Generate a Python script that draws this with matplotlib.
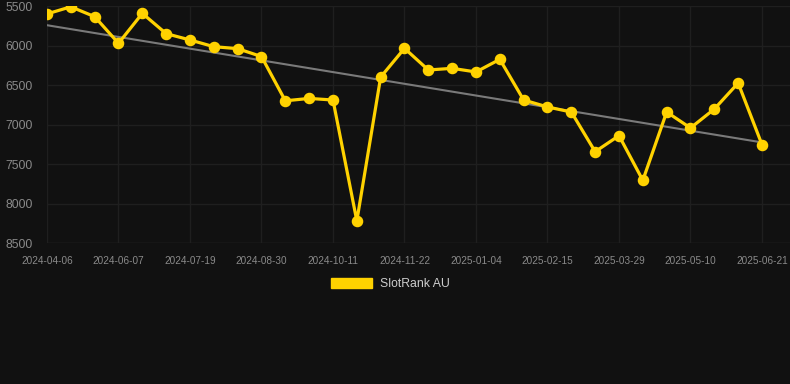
import numpy as np
import matplotlib.pyplot as plt
from matplotlib.patches import Patch

dates = ["2024-04-06", "2024-04-20", "2024-05-04", "2024-06-07", "2024-06-21", "2024-07-05",
         "2024-07-19", "2024-08-02", "2024-08-16", "2024-08-30", "2024-09-13", "2024-09-27",
         "2024-10-11", "2024-10-25", "2024-11-08", "2024-11-22", "2024-12-06", "2024-12-20",
         "2025-01-04", "2025-01-18", "2025-02-01", "2025-02-15", "2025-03-01", "2025-03-15",
         "2025-03-29", "2025-04-12", "2025-04-26", "2025-05-10", "2025-05-24", "2025-06-07",
         "2025-06-21"]
rank = [5600, 5510, 5635, 5972, 5593, 5850, 5930, 6015, 6040, 6140, 6700, 6670,
        6690, 8220, 6400, 6036, 6310, 6289, 6335, 6175, 6690, 6778, 6842, 7344,
        7141, 7707, 6842, 7044, 6804, 6475, 7255]
series_name = "SlotRank AU"

bg = "#111111"
gold = "#FFD200"
grid_c = "#1f1f1f"
tick_c = "#8a8a8a"

plt.rcParams['font.family'] = ['Liberation Sans', 'DejaVu Sans']

x = np.arange(len(rank))
slope, icpt = np.polyfit(x, rank, 1)
trend = slope * x + icpt

fig = plt.figure(figsize=[7.9, 3.84], dpi=100, facecolor=bg)
ax = fig.add_axes([47 / 790, 1 - 243 / 384, 1 - 47 / 790, (243 - 6) / 384])
ax.set_facecolor(bg)

ax.plot(x, trend, color="#7a7a7a", linewidth=1.5, zorder=2)
ax.plot(x, rank, color=gold, linewidth=2.3, marker="o", markersize=7.3, zorder=3)

ax.set_ylim(8500, 5500)
ax.set_xlim(0, 30 + 28 / 23.83)
ax.set_yticks([5500, 6000, 6500, 7000, 7500, 8000, 8500])
ax.set_xticks(x[::3])
ax.set_xticklabels(dates[::3])
ax.grid(True, color=grid_c, linewidth=1)
ax.tick_params(axis="y", length=0, pad=10, labelsize=8.8, colors=tick_c)
ax.tick_params(axis="x", length=0, pad=9, labelsize=7.2, colors=tick_c)
for s in ax.spines.values():
    s.set_visible(False)
ax.axhline(8500, color="#262626", linewidth=1, zorder=1)

fig.legend(handles=[Patch(facecolor=gold, edgecolor=gold)], labels=[series_name],
           loc="center", bbox_to_anchor=(390 / 790, 1 - 284 / 384), frameon=False,
           fontsize=8.8, labelcolor="#cccccc", handlelength=3.4, handleheight=0.85,
           handletextpad=0.6)

fig.savefig("out.png", dpi=100, facecolor=bg)
